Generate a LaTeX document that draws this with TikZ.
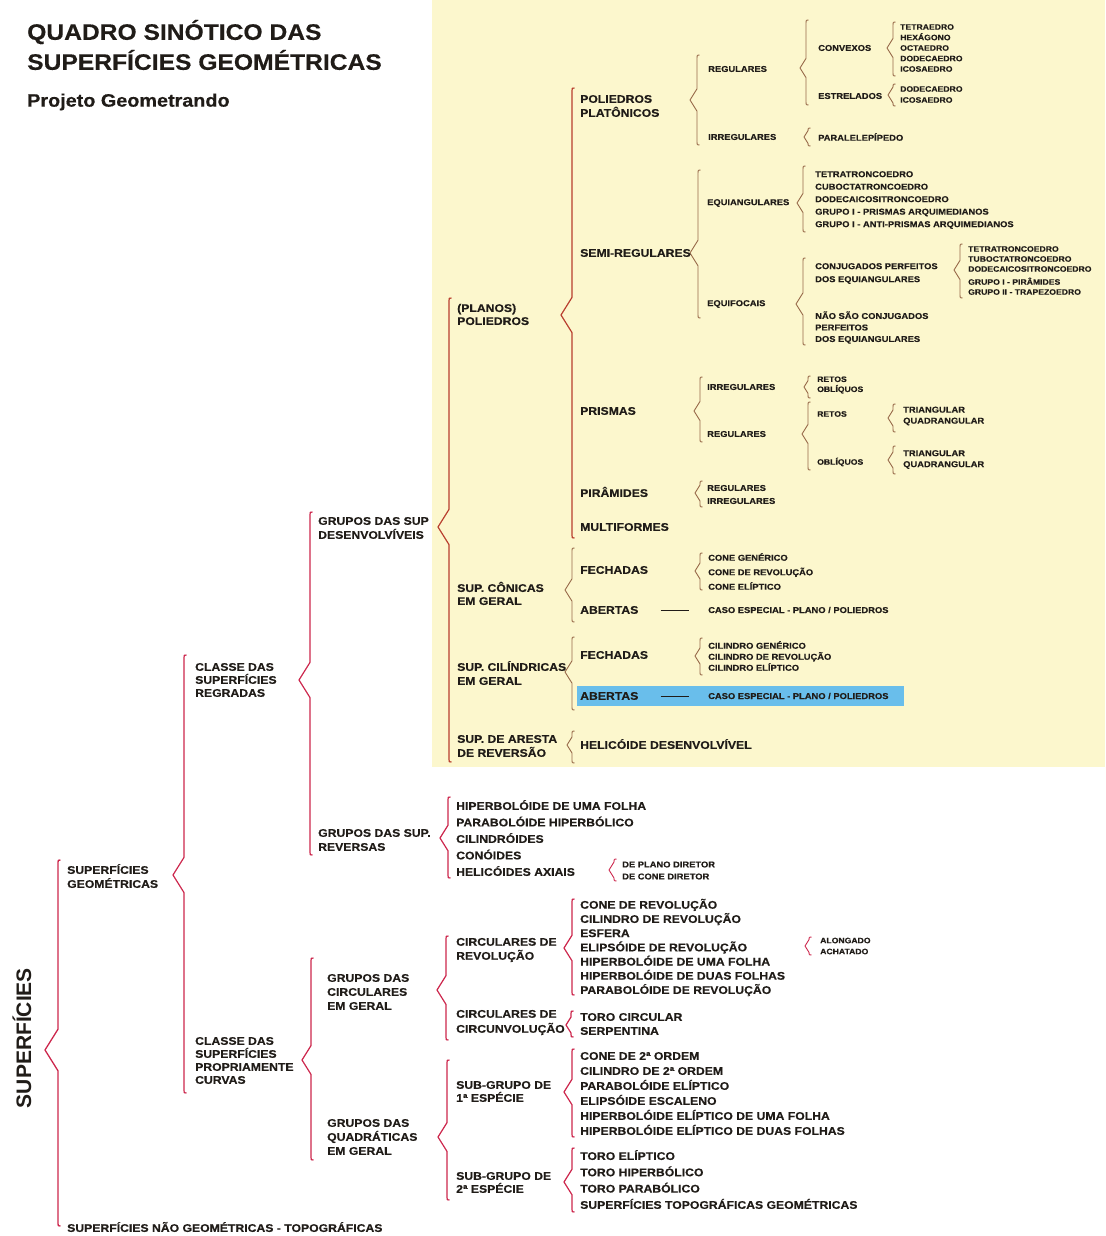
\documentclass[tikz,border=0pt]{standalone}
\usepackage{fontspec}
\setmainfont{Liberation Sans}[FakeStretch=1.1, BoldFeatures={FakeBold=0.4}]
\newfontfamily\largo{Liberation Sans}

\definecolor{carmim}{RGB}{204,38,76}
\definecolor{ferrugem}{RGB}{184,62,46}
\definecolor{castanho}{RGB}{150,104,72}
\definecolor{amarelo}{RGB}{252,247,205}
\definecolor{azul}{RGB}{105,190,235}
\definecolor{tinta}{RGB}{32,28,24}

% chave: [estilo] {x} {y topo} {y ponta} {y base} {profundidade}
\newcommand{\chave}[6][]{%
  \draw[carmim, line width=1.2pt, line join=round, #1]
    (#2+2.5,#3) .. controls (#2,#3) .. (#2,#3+2.5)
    -- (#2,#4-1.6*#6) -- (#2-#6,#4) -- (#2,#4+1.6*#6)
    -- (#2,#5-2.5) .. controls (#2,#5) .. (#2+2.5,#5);}

\begin{document}
\begin{tikzpicture}[x=1pt, y=-1pt,
    lbl/.style={anchor=west, inner sep=0pt, align=left, text=tinta, font=\fontsize{11.1}{#1}\selectfont\bfseries},
    lbl/.default=14,
    sml/.style={anchor=west, inner sep=0pt, align=left, text=tinta, font=\fontsize{8.5}{#1}\selectfont\bfseries},
    sml/.default=11,
    tny/.style={anchor=west, inner sep=0pt, align=left, text=tinta, font=\fontsize{7.85}{#1}\selectfont\bfseries},
    tny/.default=10.5,
    fina/.style={castanho, line width=0.9pt},
    media/.style={ferrugem, line width=1.2pt},
    traco/.style={tinta, line width=1pt}
]
\useasboundingbox (0,0) rectangle (1105,1236);
\fill[amarelo] (432,0) rectangle (1105,767);
\fill[azul] (577,686) rectangle (904,706);

\node[lbl=30, font=\fontsize{22.4}{30}\selectfont\bfseries] (titulo) at (27,45) {QUADRO SINÓTICO DAS\\SUPERFÍCIES GEOMÉTRICAS};
\node[lbl, font=\fontsize{18}{20}\selectfont\bfseries] (projeto) at (27,102) {Projeto Geometrando};
\node[rotate=90, inner sep=0pt, text=tinta, font=\largo\fontsize{21}{24}\selectfont\bfseries] (raiz) at (22,1038) {SUPERFÍCIES};

\chave[line width=1.3pt]{58}{860}{1050}{1226}{13}
\chave{184}{655}{875}{1093}{11}
\chave{310}{512}{680}{855}{11}
\chave{311}{958}{1060}{1160}{9}
\chave[media]{449}{298}{527}{762}{11}
\chave{448}{797}{838}{878}{8}
\chave[line width=0.9pt]{614}{859}{870}{881}{5}
\chave{446}{936}{990}{1040}{9}
\chave{572}{899}{948}{995}{8}
\chave[line width=0.9pt]{809}{937}{946}{955}{4}
\chave{571}{1011}{1025}{1037}{5}
\chave{447}{1060}{1137}{1200}{9}
\chave{572}{1049}{1092}{1137}{8}
\chave{572}{1148}{1182}{1212}{8}

\chave[media]{572}{88}{315}{538}{11}
\chave[fina]{697}{55}{100}{145}{7}
\chave[fina]{806}{20}{68}{105}{6}
\chave[fina]{893}{22}{48}{76}{6}
\chave[fina]{893}{84}{95}{106}{5}
\chave[fina]{808}{128}{137}{146}{4}
\chave[fina]{698}{170}{253}{318}{8}
\chave[fina]{803}{166}{203}{232}{6}
\chave[fina]{803}{258}{304}{345}{7}
\chave[fina]{960}{244}{270}{298}{6}
\chave[fina]{700}{377}{411}{442}{6}
\chave[fina]{808}{376}{387}{398}{4}
\chave[fina]{808}{402}{434}{470}{6}
\chave[fina]{893}{404}{418}{432}{5}
\chave[fina]{893}{446}{460}{474}{5}
\chave[fina]{700}{481}{493}{507}{5}
\chave[fina]{572}{548}{590}{622}{7}
\chave[fina]{700}{553}{571}{590}{5}
\chave[fina]{572}{637}{672}{710}{7}
\chave[fina]{700}{638}{656}{675}{5}
\chave[fina]{572}{731}{745}{763}{5}

\node[lbl] (geo) at (67,876) {SUPERFÍCIES\\GEOMÉTRICAS};
\node[lbl] (naogeo) at (67,1227) {SUPERFÍCIES NÃO GEOMÉTRICAS - TOPOGRÁFICAS};
\node[lbl=13] (regradas) at (195,680) {CLASSE DAS\\SUPERFÍCIES\\REGRADAS};
\node[lbl=13] (curvas) at (195,1060.5) {CLASSE DAS\\SUPERFÍCIES\\PROPRIAMENTE\\CURVAS};
\node[lbl] (desenv) at (318,528) {GRUPOS DAS SUP\\DESENVOLVÍVEIS};
\node[lbl] (reversas) at (318,840) {GRUPOS DAS SUP.\\REVERSAS};
\node[lbl] (circulares) at (327,992) {GRUPOS DAS\\CIRCULARES\\EM GERAL};
\node[lbl] (quadraticas) at (327,1137) {GRUPOS DAS\\QUADRÁTICAS\\EM GERAL};

\node[lbl=16.5] (revlista) at (456,838) {HIPERBOLÓIDE DE UMA FOLHA\\PARABOLÓIDE HIPERBÓLICO\\CILINDRÓIDES\\CONÓIDES\\HELICÓIDES AXIAIS};
\node[sml=12] (helilista) at (622,870.5) {DE PLANO DIRETOR\\DE CONE DIRETOR};
\node[lbl] (revol) at (456,950) {CIRCULARES DE\\REVOLUÇÃO};
\node[lbl=15] (circunv) at (456,1022.5) {CIRCULARES DE\\CIRCUNVOLUÇÃO};
\node[lbl=14.2] (revollista) at (580,947.5) {CONE DE REVOLUÇÃO\\CILINDRO DE REVOLUÇÃO\\ESFERA\\ELIPSÓIDE DE REVOLUÇÃO\\HIPERBOLÓIDE DE UMA FOLHA\\HIPERBOLÓIDE DE DUAS FOLHAS\\PARABOLÓIDE DE REVOLUÇÃO};
\node[tny=11] (alonglista) at (820,946) {ALONGADO\\ACHATADO};
\node[lbl] (circlista) at (580,1024) {TORO CIRCULAR\\SERPENTINA};
\node[lbl=13] (sub1) at (456,1091.5) {SUB-GRUPO DE\\1ª ESPÉCIE};
\node[lbl=13] (sub2) at (456,1182.5) {SUB-GRUPO DE\\2ª ESPÉCIE};
\node[lbl=15] (sub1lista) at (580,1093.5) {CONE DE 2ª ORDEM\\CILINDRO DE 2ª ORDEM\\PARABOLÓIDE ELÍPTICO\\ELIPSÓIDE ESCALENO\\HIPERBOLÓIDE ELÍPTICO DE UMA FOLHA\\HIPERBOLÓIDE ELÍPTICO DE DUAS FOLHAS};
\node[lbl=16.3] (sub2lista) at (580,1179.5) {TORO ELÍPTICO\\TORO HIPERBÓLICO\\TORO PARABÓLICO\\SUPERFÍCIES TOPOGRÁFICAS GEOMÉTRICAS};

\node[lbl=13] (poliedros) at (457,314.5) {(PLANOS)\\POLIEDROS};
\node[lbl=13] (conicas) at (457,593.5) {SUP. CÔNICAS\\EM GERAL};
\node[lbl] (cilindricas) at (457,673) {SUP. CILÍNDRICAS\\EM GERAL};
\node[lbl] (aresta) at (457,746) {SUP. DE ARESTA\\DE REVERSÃO};
\node[lbl] (platonicos) at (580,106) {POLIEDROS\\PLATÔNICOS};
\node[lbl] (semireg) at (580,253) {SEMI-REGULARES};
\node[lbl] (prismas) at (580,411) {PRISMAS};
\node[lbl] (piramides) at (580,492) {PIRÂMIDES};
\node[lbl] (multiformes) at (580,527) {MULTIFORMES};

\node[sml] (plreg) at (708,69) {REGULARES};
\node[sml] (plirreg) at (708,137) {IRREGULARES};
\node[sml] (convexos) at (818,48) {CONVEXOS};
\node[sml] (estrelados) at (818,96) {ESTRELADOS};
\node[tny] (convlista) at (900,48) {TETRAEDRO\\HEXÁGONO\\OCTAEDRO\\DODECAEDRO\\ICOSAEDRO};
\node[tny=11] (estrlista) at (900,94.5) {DODECAEDRO\\ICOSAEDRO};
\node[sml] (paralel) at (818,137) {PARALELEPÍPEDO};

\node[sml] (equiang) at (707,203) {EQUIANGULARES};
\node[sml] (equifoc) at (707,304) {EQUIFOCAIS};
\node[sml=12.5] (equilista) at (815,200) {TETRATRONCOEDRO\\CUBOCTATRONCOEDRO\\DODECAICOSITRONCOEDRO\\GRUPO I - PRISMAS ARQUIMEDIANOS\\GRUPO I - ANTI-PRISMAS ARQUIMEDIANOS};
\node[sml=13] (conjug) at (815,273.5) {CONJUGADOS PERFEITOS\\DOS EQUIANGULARES};
\node[sml=11.5] (naoconj) at (815,327.5) {NÃO SÃO CONJUGADOS\\PERFEITOS\\DOS EQUIANGULARES};
\node[tny=10] (conjlista) at (968,270.5) {TETRATRONCOEDRO\\TUBOCTATRONCOEDRO\\DODECAICOSITRONCOEDRO\\[3pt]GRUPO I - PIRÂMIDES\\GRUPO II - TRAPEZOEDRO};

\node[sml] (prirreg) at (707,387) {IRREGULARES};
\node[sml] (prreg) at (707,434) {REGULARES};
\node[tny=10] (prirrlista) at (817,385) {RETOS\\OBLÍQUOS};
\node[tny] (pretos) at (817,414) {RETOS};
\node[tny] (pobliq) at (817,462) {OBLÍQUOS};
\node[sml] (pretlista) at (903,416) {TRIANGULAR\\QUADRANGULAR};
\node[sml] (pobllista) at (903,459.5) {TRIANGULAR\\QUADRANGULAR};
\node[sml=13] (pirlista) at (707,494.5) {REGULARES\\IRREGULARES};

\node[lbl] (cofech) at (580,570) {FECHADAS};
\node[lbl] (coabert) at (580,610) {ABERTAS};
\node[sml=14.5] (colista) at (708,571.5) {CONE GENÉRICO\\CONE DE REVOLUÇÃO\\CONE ELÍPTICO};
\node[sml] (cocaso) at (708,610) {CASO ESPECIAL - PLANO / POLIEDROS};
\node[lbl] (cifech) at (580,655) {FECHADAS};
\node[lbl] (ciabert) at (580,696) {ABERTAS};
\node[sml] (cilista) at (708,656) {CILINDRO GENÉRICO\\CILINDRO DE REVOLUÇÃO\\CILINDRO ELÍPTICO};
\node[sml] (cicaso) at (708,696) {CASO ESPECIAL - PLANO / POLIEDROS};
\node[lbl] (helic) at (580,744) {HELICÓIDE DESENVOLVÍVEL};

\draw[traco, shorten <=22pt, shorten >=19pt] (coabert) -- (cocaso);
\draw[traco, shorten <=22pt, shorten >=19pt] (ciabert) -- (cicaso);
\end{tikzpicture}
\end{document}
